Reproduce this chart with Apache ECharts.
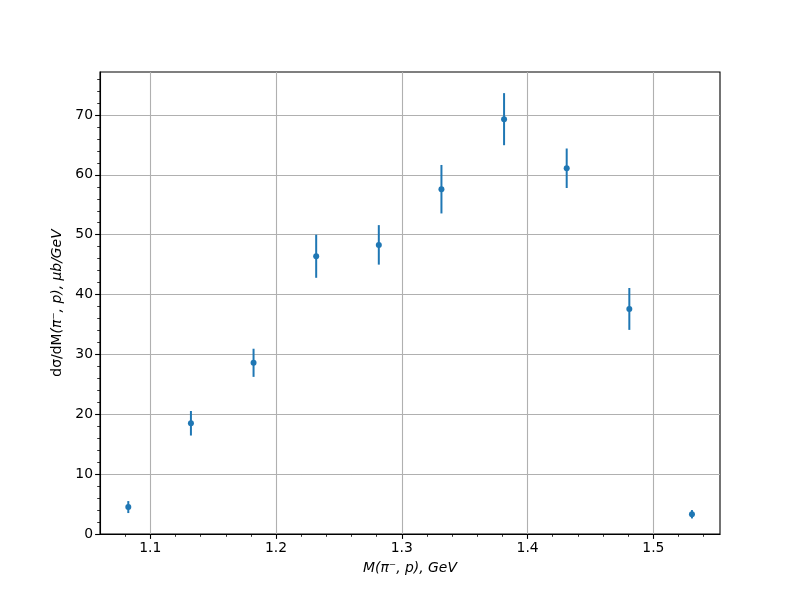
<!DOCTYPE html>
<html>
<head>
<meta charset="utf-8">
<script src="https://cdn.jsdelivr.net/npm/echarts@6/dist/echarts.min.js"></script>
<style>html,body{margin:0;padding:0;background:#fff}#c{width:800px;height:600px}</style>
</head>
<body>
<div id="c"></div>
<script>
const massValues = [1.0825, 1.1323, 1.1821, 1.2319, 1.2817, 1.3315, 1.3813, 1.4311, 1.4809, 1.5307];
const crossSection = [4.5, 18.5, 28.6, 46.4, 48.3, 57.6, 69.3, 61.1, 37.6, 3.3];
const crossSectionErr = [1.0, 2.05, 2.35, 3.6, 3.3, 4.05, 4.35, 3.3, 3.5, 0.7];
const yTicks = [0, 10, 20, 30, 40, 50, 60, 70];
const xTicks = [1.1, 1.2, 1.3, 1.4, 1.5];

const pts = massValues.map((x, i) => [x, crossSection[i]]);
const errs = massValues.map((x, i) => [x, crossSection[i] - crossSectionErr[i], crossSection[i] + crossSectionErr[i]]);

const FONT = 'DejaVu Sans';
const chart = echarts.init(document.getElementById('c'), null, {renderer: 'canvas'});
chart.setOption({
  animation: false,
  backgroundColor: '#ffffff',
  grid: {left: 100, right: 80, top: 72, bottom: 66, show: true, borderColor: '#000', borderWidth: 1.1, backgroundColor: 'transparent'},
  xAxis: {
    type: 'value', min: 1.0600, max: 1.5530, splitNumber: 5,
    name: 'M(π⁻, p), GeV', nameLocation: 'middle', nameGap: 27,
    nameTextStyle: {fontFamily: FONT, fontSize: 13.9, fontStyle: 'italic', color: '#000'},
    axisLine: {show: true, lineStyle: {color: '#000', width: 1.1}},
    axisTick: {show: true, inside: false, length: 4.9, customValues: xTicks, lineStyle: {color: '#000', width: 1.1}},
    minorTick: {show: true, splitNumber: 5, length: 2.8, lineStyle: {color: '#000', width: 0.8}},
    axisLabel: {fontFamily: FONT, fontSize: 13.9, color: '#000', margin: 7, customValues: xTicks,
      formatter: v => Number(v).toFixed(1)},
    splitLine: {show: true, lineStyle: {color: '#b0b0b0', width: 1.1}},
    minorSplitLine: {show: false}
  },
  yAxis: {
    type: 'value', min: 0, max: 77.18, interval: 10,
    name: '{a|dσ/dM}{b|(π⁻, p), μb/GeV}', nameLocation: 'middle', nameGap: 36,
    nameTextStyle: {fontFamily: FONT, fontSize: 13.9, color: '#000',
      rich: {a: {fontFamily: FONT, fontSize: 13.9, color: '#000'}, b: {fontFamily: FONT, fontSize: 13.9, fontStyle: 'italic', color: '#000'}}},
    axisLine: {show: true, lineStyle: {color: '#000', width: 1.1}},
    axisTick: {show: true, inside: false, length: 4.9, customValues: yTicks, lineStyle: {color: '#000', width: 1.1}},
    minorTick: {show: true, splitNumber: 5, length: 2.8, lineStyle: {color: '#000', width: 0.8}},
    axisLabel: {fontFamily: FONT, fontSize: 13.9, color: '#000', margin: 7, customValues: yTicks,
      formatter: v => String(Math.round(v))},
    splitLine: {show: true, lineStyle: {color: '#b0b0b0', width: 1.1}}
  },
  series: [
    {
      type: 'custom',
      data: errs,
      encode: {x: 0, y: [1, 2]},
      renderItem: (params, api) => {
        const lo = api.coord([api.value(0), api.value(1)]);
        const hi = api.coord([api.value(0), api.value(2)]);
        return {type: 'line', shape: {x1: lo[0], y1: lo[1], x2: hi[0], y2: hi[1]},
          style: {stroke: '#1f77b4', lineWidth: 2}};
      },
      z: 3
    },
    {
      type: 'scatter', data: pts, symbol: 'circle', symbolSize: 6,
      itemStyle: {color: '#1f77b4', opacity: 1}, z: 4
    }
  ]
});
</script>
</body>
</html>
